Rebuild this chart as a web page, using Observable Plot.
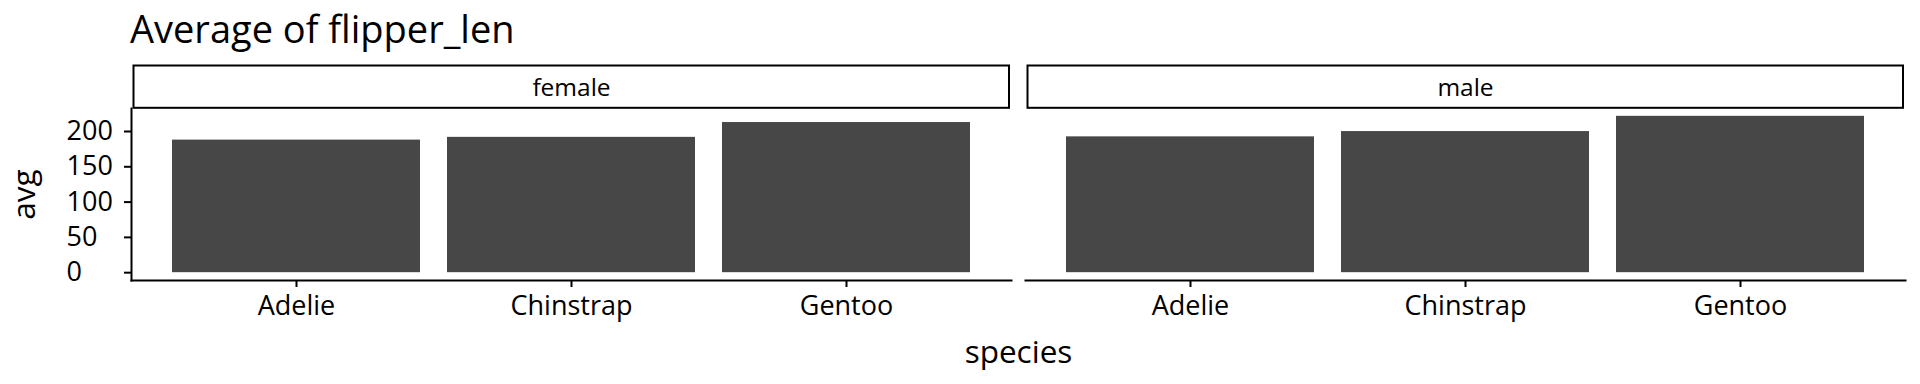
<!DOCTYPE html>
<html>
<head>
<meta charset="utf-8">
<script src="https://cdn.jsdelivr.net/npm/d3@7"></script>
<script src="https://cdn.jsdelivr.net/npm/@observablehq/plot@0.6"></script>
<style>
  html, body { margin: 0; padding: 0; background: #ffffff; overflow: hidden; }
  #title { position: relative; height: 55px; font-family: "Open Sans", sans-serif; }
  #title span { position: absolute; left: 130px; top: 9px; font-size: 38px; line-height: 38px; color: #000; white-space: nowrap; }
  #chart svg { display: block; }
</style>
</head>
<body>
<div id="title"><span>Average of flipper_len</span></div>
<div id="chart"></div>
<script>
// ---- data ----
const sexes = ["female", "male"];
const species = ["Adelie", "Chinstrap", "Gentoo"];
const femaleAvg = [187.8, 191.7, 212.7];
const maleAvg = [192.4, 199.9, 221.5];
const yTicks = [0, 50, 100, 150, 200];
const titleText = "Average of flipper_len";
const xLabel = "species";
const yLabel = "avg";

// table built from the arrays
const rows = [];
sexes.forEach((s, i) => {
  const vals = i === 0 ? femaleAvg : maleAvg;
  species.forEach((sp, j) => rows.push({sex: s, species: sp, avg: vals[j]}));
});

document.querySelector("#title span").textContent = titleText;

// ---- layout ----
const W = 1920, H = 329;
const mt = 53, mb = 104, ml = 130, mr = 14.5;
const frameH = H - mt - mb;
const ymax = d3.max(rows, d => d.avg), ymin = 0;
const pad = 0.05 * (ymax - ymin);

const chart = Plot.plot({
  width: W,
  height: H,
  marginTop: mt,
  marginBottom: mb,
  marginLeft: ml,
  marginRight: mr,
  style: {fontFamily: "Open Sans", color: "#000", background: "#fff", overflow: "visible"},
  fx: {domain: sexes, padding: 0.0157, axis: null},
  x: {domain: species, paddingInner: 0.1, paddingOuter: 0.15, axis: null},
  y: {domain: [ymin - pad, ymax + pad], axis: null},
  marks: [
    Plot.barY(rows, {fx: "sex", x: "species", y: "avg", fill: "#474747"}),
    Plot.frame({anchor: "bottom", stroke: "#000", strokeWidth: 2}),
    Plot.frame({anchor: "left", stroke: "#000", strokeWidth: 2, facetAnchor: "left"}),
    Plot.frame({stroke: "#000", strokeWidth: 2, insetTop: -43, insetBottom: frameH + 0.7, insetLeft: 2, insetRight: 2.5}),
    Plot.axisFx({anchor: "top", tickSize: 0, tickPadding: 20, lineAnchor: "middle", fontSize: 24.5, label: null}),
    Plot.axisY({ticks: yTicks, tickSize: 7, tickPadding: 58, textAnchor: "start", strokeWidth: 2, fontSize: 27, label: null}),
    Plot.axisY({ticks: [], label: yLabel, labelAnchor: "center", labelOffset: 119, labelArrow: "none", fontSize: 31.5}),
    Plot.axisX({tickSize: 7, tickPadding: 8, strokeWidth: 2, fontSize: 27, label: null}),
    Plot.axisX({ticks: [], label: xLabel, labelAnchor: "center", labelOffset: 82, labelArrow: "none", fontSize: 31.5})
  ]
});
document.getElementById("chart").appendChild(chart);
</script>
</body>
</html>
